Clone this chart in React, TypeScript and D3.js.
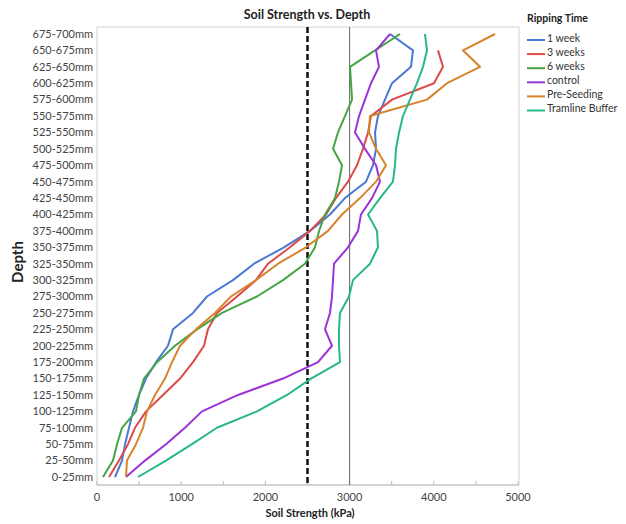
import React, { useEffect, useRef } from 'react';
import * as d3 from 'd3';

// depth bands, bottom (shallow) to top (deep)
const depths = [
  '0-25mm', '25-50mm', '50-75mm', '75-100mm', '100-125mm', '125-150mm', '150-175mm',
  '175-200mm', '200-225mm', '225-250mm', '250-275mm', '275-300mm', '300-325mm', '325-350mm',
  '350-375mm', '375-400mm', '400-425mm', '425-450mm', '450-475mm', '475-500mm', '500-525mm',
  '525-550mm', '550-575mm', '575-600mm', '600-625mm', '625-650mm', '650-675mm', '675-700mm',
];

// soil strength (kPa) per depth band, same order as depths
const oneWeek = [
  214, 297, 333, 380, 428, 499, 582, 701, 843, 903, 1140, 1306, 1615, 1865,
  2221, 2530, 2767, 2945, 3195, 3278, 3314, 3302, 3337, 3420, 3504, 3729, 3753, 3480,
];
const threeWeeks = [
  143, 261, 368, 451, 582, 784, 986, 1140, 1271, 1318, 1425, 1663, 1888, 2031,
  2292, 2530, 2720, 2838, 2981, 3088, 3159, 3219, 3254, 3504, 4002, 4109, 4050, null,
];
const sixWeeks = [
  71, 190, 238, 297, 463, 499, 558, 713, 926, 1188, 1485, 1900, 2209, 2470,
  2589, 2637, 2708, 2827, 2874, 2910, 2803, 2862, 2945, 3029, 3017, 3005, 3302, 3599,
];
const control = [
  344, 570, 819, 1045, 1247, 1675, 2209, 2625, 2791, 2708, 2767, 2791, 2803, 2815,
  2981, 3100, 3135, 3266, 3361, 3314, 3183, 3064, 3112, 3183, 3254, 3349, 3314, 3480,
];
const preSeeding = [
  344, 356, 463, 546, 594, 689, 808, 891, 986, 1176, 1401, 1591, 1888, 2150,
  2482, 2743, 2910, 3124, 3314, 3432, 3314, 3230, 3242, 3919, 4157, 4549, 4347, 4727,
];
const tramlineBuffer = [
  487, 819, 1128, 1425, 1900, 2257, 2542, 2886, 2874, 2874, 2886, 2993, 3040, 3242,
  3337, 3325, 3219, 3361, 3515, 3539, 3551, 3587, 3634, 3717, 3800, 3872, 3919, 3895,
];

const seriesNames = ['1 week', '3 weeks', '6 weeks', 'control', 'Pre-Seeding', 'Tramline Buffer'];
const seriesValues = [oneWeek, threeWeeks, sixWeeks, control, preSeeding, tramlineBuffer];
const seriesColors = ['#4a78d2', '#dc4a4a', '#45a544', '#9a34d8', '#d7832c', '#26b78c'];

const xTicks = [0, 1000, 2000, 3000, 4000, 5000];
const refDashed = 2500;
const refSolid = 3000;

const FONT = 'Lato, "Open Sans", sans-serif';

export default function App() {
  const svgRef = useRef(null);

  useEffect(() => {
    const svg = d3.select(svgRef.current);
    svg.selectAll('*').remove();

    // plot frame
    const left = 97;
    const right = 519;
    const top = 27;
    const bottom = 485;

    const x = d3.scaleLinear().domain([0, 5000]).range([left, 518]);
    const y = d3.scalePoint().domain(depths).range([477, 34]);

    // frame
    svg.append('rect')
      .attr('x', left).attr('y', top)
      .attr('width', right - left).attr('height', bottom - top)
      .attr('fill', 'none').attr('stroke', '#d4d4d4').attr('stroke-width', 1);
    svg.append('line')
      .attr('x1', left).attr('x2', right).attr('y1', bottom).attr('y2', bottom)
      .attr('stroke', '#bdbdbd');

    // small ticks every 500
    svg.append('g')
      .selectAll('line')
      .data(d3.range(0, 5001, 500))
      .enter()
      .append('line')
      .attr('x1', (d) => x(d)).attr('x2', (d) => x(d))
      .attr('y1', bottom).attr('y2', bottom - 4)
      .attr('stroke', '#bdbdbd');

    // x tick labels
    svg.append('g')
      .selectAll('text')
      .data(xTicks)
      .enter()
      .append('text')
      .attr('x', (d) => x(d))
      .attr('y', 501)
      .attr('text-anchor', 'middle')
      .attr('font-family', FONT)
      .attr('font-size', '11px')
      .attr('fill', '#444')
      .text((d) => d);

    // y tick labels
    svg.append('g')
      .selectAll('text')
      .data(depths)
      .enter()
      .append('text')
      .attr('x', 93)
      .attr('y', (d) => y(d))
      .attr('dy', '0.35em')
      .attr('text-anchor', 'end')
      .attr('font-family', FONT)
      .attr('font-size', '11px')
      .attr('fill', '#444')
      .text((d) => d);

    // reference lines
    svg.append('line')
      .attr('x1', x(refSolid)).attr('x2', x(refSolid))
      .attr('y1', top).attr('y2', bottom)
      .attr('stroke', '#666').attr('stroke-width', 1);
    svg.append('line')
      .attr('x1', x(refDashed)).attr('x2', x(refDashed))
      .attr('y1', top).attr('y2', bottom)
      .attr('stroke', '#111').attr('stroke-width', 2.5)
      .attr('stroke-dasharray', '6,3');

    // series lines
    const line = d3.line()
      .defined((d) => d[1] != null)
      .x((d) => x(d[1]))
      .y((d) => y(d[0]));

    seriesValues.forEach((vals, i) => {
      svg.append('path')
        .datum(depths.map((dep, j) => [dep, vals[j]]))
        .attr('d', line)
        .attr('fill', 'none')
        .attr('stroke', seriesColors[i])
        .attr('stroke-width', 2)
        .attr('stroke-linejoin', 'round');
    });

    // titles
    svg.append('text')
      .attr('x', 307).attr('y', 19)
      .attr('text-anchor', 'middle')
      .attr('font-family', FONT)
      .attr('font-weight', 'bold')
      .attr('font-size', '12.5px')
      .attr('fill', '#222')
      .text('Soil Strength vs. Depth');

    svg.append('text')
      .attr('x', 310).attr('y', 517)
      .attr('text-anchor', 'middle')
      .attr('font-family', FONT)
      .attr('font-weight', 'bold')
      .attr('font-size', '11px')
      .attr('fill', '#222')
      .text('Soil Strength (kPa)');

    svg.append('text')
      .attr('transform', 'translate(23,262) rotate(-90)')
      .attr('text-anchor', 'middle')
      .attr('font-family', FONT)
      .attr('font-weight', 'bold')
      .attr('font-size', '15px')
      .attr('fill', '#222')
      .text('Depth');

    // legend
    const legend = svg.append('g').attr('transform', 'translate(527,0)');
    legend.append('text')
      .attr('x', 0).attr('y', 22)
      .attr('font-family', FONT)
      .attr('font-weight', 'bold')
      .attr('font-size', '10.5px')
      .attr('fill', '#222')
      .text('Ripping Time');

    const items = legend.selectAll('g.item')
      .data(seriesNames)
      .enter()
      .append('g')
      .attr('class', 'item')
      .attr('transform', (d, i) => `translate(0,${38 + i * 14.1})`);
    items.append('line')
      .attr('x1', 0).attr('x2', 18)
      .attr('y1', 2).attr('y2', 2)
      .attr('stroke', (d, i) => seriesColors[i])
      .attr('stroke-width', 2);
    items.append('text')
      .attr('x', 20).attr('y', 0)
      .attr('dy', '0.35em')
      .attr('font-family', FONT)
      .attr('font-size', '10.5px')
      .attr('fill', '#333')
      .text((d) => d);
  }, []);

  return (
    <svg
      ref={svgRef}
      width={626}
      height={524}
      style={{ position: 'absolute', left: 0, top: 0, display: 'block', background: '#fff' }}
    />
  );
}
